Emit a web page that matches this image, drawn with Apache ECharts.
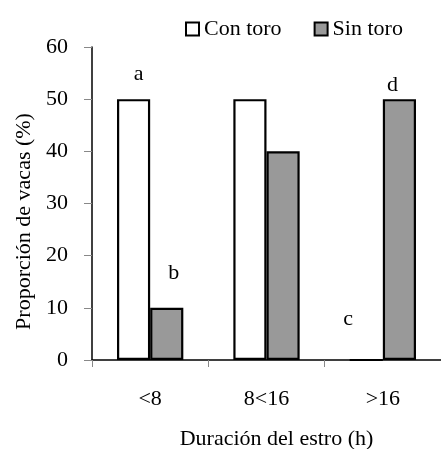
<!DOCTYPE html>
<html>
<head>
<meta charset="utf-8">
<script src="https://cdn.jsdelivr.net/npm/echarts@6/dist/echarts.min.js"></script>
<style>
html,body{margin:0;padding:0;background:#fff;}
#chart{width:441px;height:449px;}
</style>
</head>
<body>
<div id="chart"></div>
<script>
const categories = ['<8', '8<16', '>16'];
const conToro = [50, 50, 0];
const sinToro = [10, 40, 50];
const conToroLetters = ['a', '', 'c'];
const sinToroLetters = ['b', '', 'd'];
const yTicks = [0, 10, 20, 30, 40, 50, 60];

const FONT = "'Liberation Serif', 'Times New Roman', serif";
const FS = 22;

// label offsets (style only)
const conOffsets = [[5, -9], [0, 0], [-18, -24]];
const sinOffsets = [[7, -19], [0, 0], [-7, 2]];

function buildData(values, letters, offsets) {
  return values.map((v, i) => ({
    value: v,
    label: {
      show: letters[i] !== '',
      position: 'top',
      formatter: letters[i],
      offset: offsets[i],
      color: '#000',
      fontFamily: FONT,
      fontSize: FS
    }
  }));
}

const chart = echarts.init(document.getElementById('chart'));
chart.setOption({
  animation: false,
  backgroundColor: '#fff',
  textStyle: { fontFamily: FONT, color: '#000' },
  legend: {
    top: 13,
    left: 180,
    itemWidth: 13,
    itemHeight: 13,
    itemGap: 32,
    icon: 'rect',
    textStyle: { fontFamily: FONT, fontSize: FS, color: '#000' },
    data: ['Con toro', 'Sin toro']
  },
  grid: { left: 92, right: 0, top: 47, bottom: 89, containLabel: false, outerBoundsMode: 'none' },
  xAxis: {
    type: 'category',
    data: categories,
    name: 'Duración del estro (h)',
    nameLocation: 'middle',
    nameGap: 68,
    nameTextStyle: { fontFamily: FONT, fontSize: FS, color: '#000', padding: [0, 0, 0, 20] },
    axisLine: { show: true, lineStyle: { color: '#000', width: 1.5 } },
    axisTick: { show: true, length: 7, lineStyle: { color: '#888' } },
    axisLabel: { margin: 28, fontFamily: FONT, fontSize: FS, color: '#000' }
  },
  yAxis: {
    type: 'value',
    min: yTicks[0],
    max: yTicks[yTicks.length - 1],
    interval: 10,
    name: 'Proporción de vacas (%)',
    nameLocation: 'middle',
    nameGap: 52,
    nameTextStyle: { fontFamily: FONT, fontSize: FS, color: '#000', padding: [0, 36, 0, 0] },
    axisLine: { show: true, lineStyle: { color: '#000', width: 1.5 } },
    axisTick: { show: true, length: 8, lineStyle: { color: '#888' } },
    axisLabel: { margin: 24, fontFamily: FONT, fontSize: FS, color: '#000' },
    splitLine: { show: false }
  },
  series: [
    {
      name: 'Con toro',
      type: 'bar',
      barGap: '0%',
      barCategoryGap: '43%',
      itemStyle: { color: '#fff', borderColor: '#000', borderWidth: 2.2 },
      data: buildData(conToro, conToroLetters, conOffsets)
    },
    {
      name: 'Sin toro',
      type: 'bar',
      barGap: '0%',
      barCategoryGap: '43%',
      itemStyle: { color: '#999999', borderColor: '#000', borderWidth: 2.2 },
      data: buildData(sinToro, sinToroLetters, sinOffsets)
    }
  ]
});
</script>
</body>
</html>
